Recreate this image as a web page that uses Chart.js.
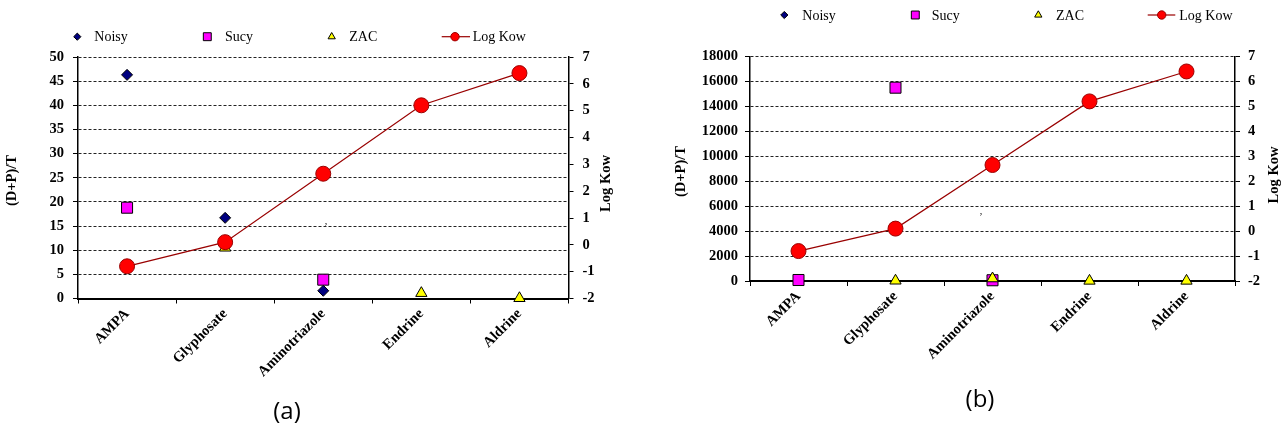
<!DOCTYPE html>
<html>
<head>
<meta charset="utf-8">
<script src="https://cdn.jsdelivr.net/npm/chart.js@4.4.0/dist/chart.umd.min.js"></script>
<style>
  html, body { margin: 0; padding: 0; background: #fff; }
  #wrap { position: relative; width: 1288px; height: 432px; }
  canvas { position: absolute; top: 0; }
  #chartA { left: 0; }
  #chartB { left: 644px; }
</style>
</head>
<body>
<div id="wrap">
  <canvas id="chartA" width="644" height="432"></canvas>
  <canvas id="chartB" width="644" height="432"></canvas>
</div>
<script>
const categories = ['AMPA', 'Glyphosate', 'Aminotriazole', 'Endrine', 'Aldrine'];
const logKow = [-0.8, 0.1, 2.65, 5.2, 6.4];

// panel (a)
const noisyA = [46.3, 16.7, 1.6, null, null];
const sucyA = [18.8, null, 3.9, null, null];
const zacA = [null, 10.5, null, 1.1, 0.05];

// panel (b)
const noisyB = [null, null, null, null, null];
const sucyB = [80, 15500, 60, null, null];
const zacB = [null, 20, 200, 10, 10];

// tick labels
const leftTicksA = [0, 5, 10, 15, 20, 25, 30, 35, 40, 45, 50];
const leftTicksB = [0, 2000, 4000, 6000, 8000, 10000, 12000, 14000, 16000, 18000];
const rightTicks = [-2, -1, 0, 1, 2, 3, 4, 5, 6, 7];

const SERIF = "'Liberation Serif', 'Times New Roman', serif";
const tickFont = { family: SERIF, size: 14.5, weight: 'bold' };

// Styles for each series (shared by points and legend)
const seriesStyle = {
    Noisy: { pointStyle: 'rectRot', fill: '#000080', stroke: '#000000', radius: 5.5, legendRadius: 3.6 },
    Sucy: { pointStyle: 'rect', fill: '#FF00FF', stroke: '#000000', radius: 7.8, legendRadius: 5.6 },
    ZAC: { pointStyle: 'triangle', fill: '#FFFF00', stroke: '#000000', radius: 6.5, legendRadius: 4.2 },
    'Log Kow': { pointStyle: 'circle', fill: '#FF0000', stroke: '#990000', radius: 7.5, legendRadius: 4.2 }
};

function scatterSet(name, values, order) {
    const s = seriesStyle[name];
    return {
        label: name,
        data: values,
        yAxisID: 'y',
        showLine: false,
        pointStyle: s.pointStyle,
        pointRadius: s.radius,
        pointBackgroundColor: s.fill,
        pointBorderColor: s.stroke,
        pointBorderWidth: 1,
        order: order,
        clip: false
    };
}

function logKowSet() {
    const s = seriesStyle['Log Kow'];
    return {
        label: 'Log Kow',
        data: logKow,
        yAxisID: 'y2',
        borderColor: '#990000',
        borderWidth: 1.2,
        pointStyle: 'circle',
        pointRadius: s.radius,
        pointBackgroundColor: s.fill,
        pointBorderColor: s.stroke,
        pointBorderWidth: 1,
        order: 1,
        clip: false
    };
}

// Custom decorations: legend row, rotated axis titles, caption
function decorPlugin(cfg) {
    return {
        id: 'decor',
        afterDraw(chart) {
            const ctx = chart.ctx;
            ctx.save();
            // legend
            ctx.font = '14px ' + SERIF;
            ctx.textBaseline = 'middle';
            ctx.textAlign = 'left';
            cfg.legend.forEach(item => {
                const s = seriesStyle[item.name];
                if (item.line) {
                    ctx.strokeStyle = '#990000';
                    ctx.lineWidth = 1.2;
                    ctx.beginPath();
                    ctx.moveTo(item.line[0], cfg.legendY);
                    ctx.lineTo(item.line[1], cfg.legendY);
                    ctx.stroke();
                }
                ctx.fillStyle = s.fill;
                ctx.strokeStyle = s.stroke;
                ctx.lineWidth = 1;
                Chart.helpers.drawPoint(ctx, {
                    pointStyle: s.pointStyle, radius: s.legendRadius, rotation: 0, borderWidth: 1
                }, item.marker, cfg.legendY);
                ctx.fillStyle = '#000';
                ctx.fillText(item.name, item.text, cfg.legendY + 1);
            });
            // axis titles
            ctx.font = 'bold 14.5px ' + SERIF;
            ctx.textAlign = 'center';
            ctx.fillStyle = '#000';
            cfg.titles.forEach(t => {
                ctx.save();
                ctx.translate(t.x, t.y);
                ctx.rotate(-Math.PI / 2);
                ctx.fillText(t.text, 0, 0);
                ctx.restore();
            });
            // stray comma from the original figure
            ctx.font = '10px ' + SERIF;
            ctx.fillText(',', cfg.comma[0], cfg.comma[1]);
            // caption
            ctx.font = "24px 'Open Sans', sans-serif";
            ctx.fillText(cfg.caption, cfg.captionX, cfg.captionY);
            ctx.restore();
        }
    };
}

function makeChart(canvasId, data, box, decor) {
    const ctx = document.getElementById(canvasId).getContext('2d');
    return new Chart(ctx, {
        type: 'line',
        data: {
            labels: categories,
            datasets: [
                logKowSet(),
                scatterSet('ZAC', data.zac, 2),
                scatterSet('Sucy', data.sucy, 3),
                scatterSet('Noisy', data.noisy, 4)
            ]
        },
        options: {
            responsive: false,
            animation: false,
            layout: { padding: { top: box.top, left: 0, right: 0, bottom: 0 } },
            plugins: {
                legend: { display: false },
                tooltip: { enabled: false }
            },
            scales: {
                x: {
                    type: 'category',
                    offset: true,
                    grid: { offset: true, drawOnChartArea: false, drawTicks: true, tickLength: 5, color: '#000', lineWidth: 1 },
                    border: { color: '#000', width: 2 },
                    ticks: { font: tickFont, color: '#000', maxRotation: 45, minRotation: 45, autoSkip: false, padding: 2 },
                    afterFit: s => { s.height = 432 - box.bottom; }
                },
                y: {
                    position: 'left',
                    min: data.leftTicks[0],
                    max: data.leftTicks[data.leftTicks.length - 1],
                    afterBuildTicks: s => { s.ticks = data.leftTicks.map(v => ({ value: v })); },
                    grid: { color: '#222', lineWidth: 1, drawTicks: true, tickLength: 5, tickColor: '#000', tickBorderDash: [] },
                    border: { color: '#000', width: 1.5, dash: [3, 2] },
                    ticks: { font: tickFont, color: '#000', padding: box.leftPad, callback: v => String(v) },
                    afterFit: s => { s.width = box.left; }
                },
                y2: {
                    position: 'right',
                    min: -2,
                    max: 7,
                    afterBuildTicks: s => { s.ticks = rightTicks.map(v => ({ value: v })); },
                    grid: { drawOnChartArea: false, drawTicks: true, tickLength: 5, color: '#000' },
                    border: { color: '#000', width: 1.5 },
                    ticks: { font: tickFont, color: '#000', padding: box.rightPad, callback: v => String(v) },
                    afterFit: s => { s.width = 644 - box.right; }
                }
            }
        },
        plugins: [decorPlugin(decor)]
    });
}

makeChart('chartA',
    { noisy: noisyA, sucy: sucyA, zac: zacA, leftTicks: leftTicksA },
    { top: 57, bottom: 298.5, left: 78, right: 568.5, leftPad: 9, rightPad: 9 },
    {
        legendY: 36.7,
        legend: [
            { name: 'Noisy', marker: 77.3, text: 94.3 },
            { name: 'Sucy', marker: 207.3, text: 225 },
            { name: 'ZAC', marker: 331.7, text: 349.3 },
            { name: 'Log Kow', marker: 455, text: 472.7, line: [441.7, 470] }
        ],
        titles: [
            { text: '(D+P)/T', x: 12, y: 180.5 },
            { text: 'Log Kow', x: 606.7, y: 183.5 }
        ],
        comma: [326, 221],
        caption: '(a)', captionX: 287, captionY: 412
    });

makeChart('chartB',
    { noisy: noisyB, sucy: sucyB, zac: zacB, leftTicks: leftTicksB },
    { top: 56.5, bottom: 281, left: 106, right: 591, leftPad: 7, rightPad: 8 },
    {
        legendY: 15,
        legend: [
            { name: 'Noisy', marker: 140.3, text: 158.3 },
            { name: 'Sucy', marker: 271.3, text: 287.7 },
            { name: 'ZAC', marker: 394.3, text: 412 },
            { name: 'Log Kow', marker: 517.7, text: 535.3, line: [503.7, 531.3] }
        ],
        titles: [
            { text: '(D+P)/T', x: 37, y: 171.5 },
            { text: 'Log Kow', x: 630, y: 175 }
        ],
        comma: [337, 211],
        caption: '(b)', captionX: 336, captionY: 400
    });
</script>
</body>
</html>
